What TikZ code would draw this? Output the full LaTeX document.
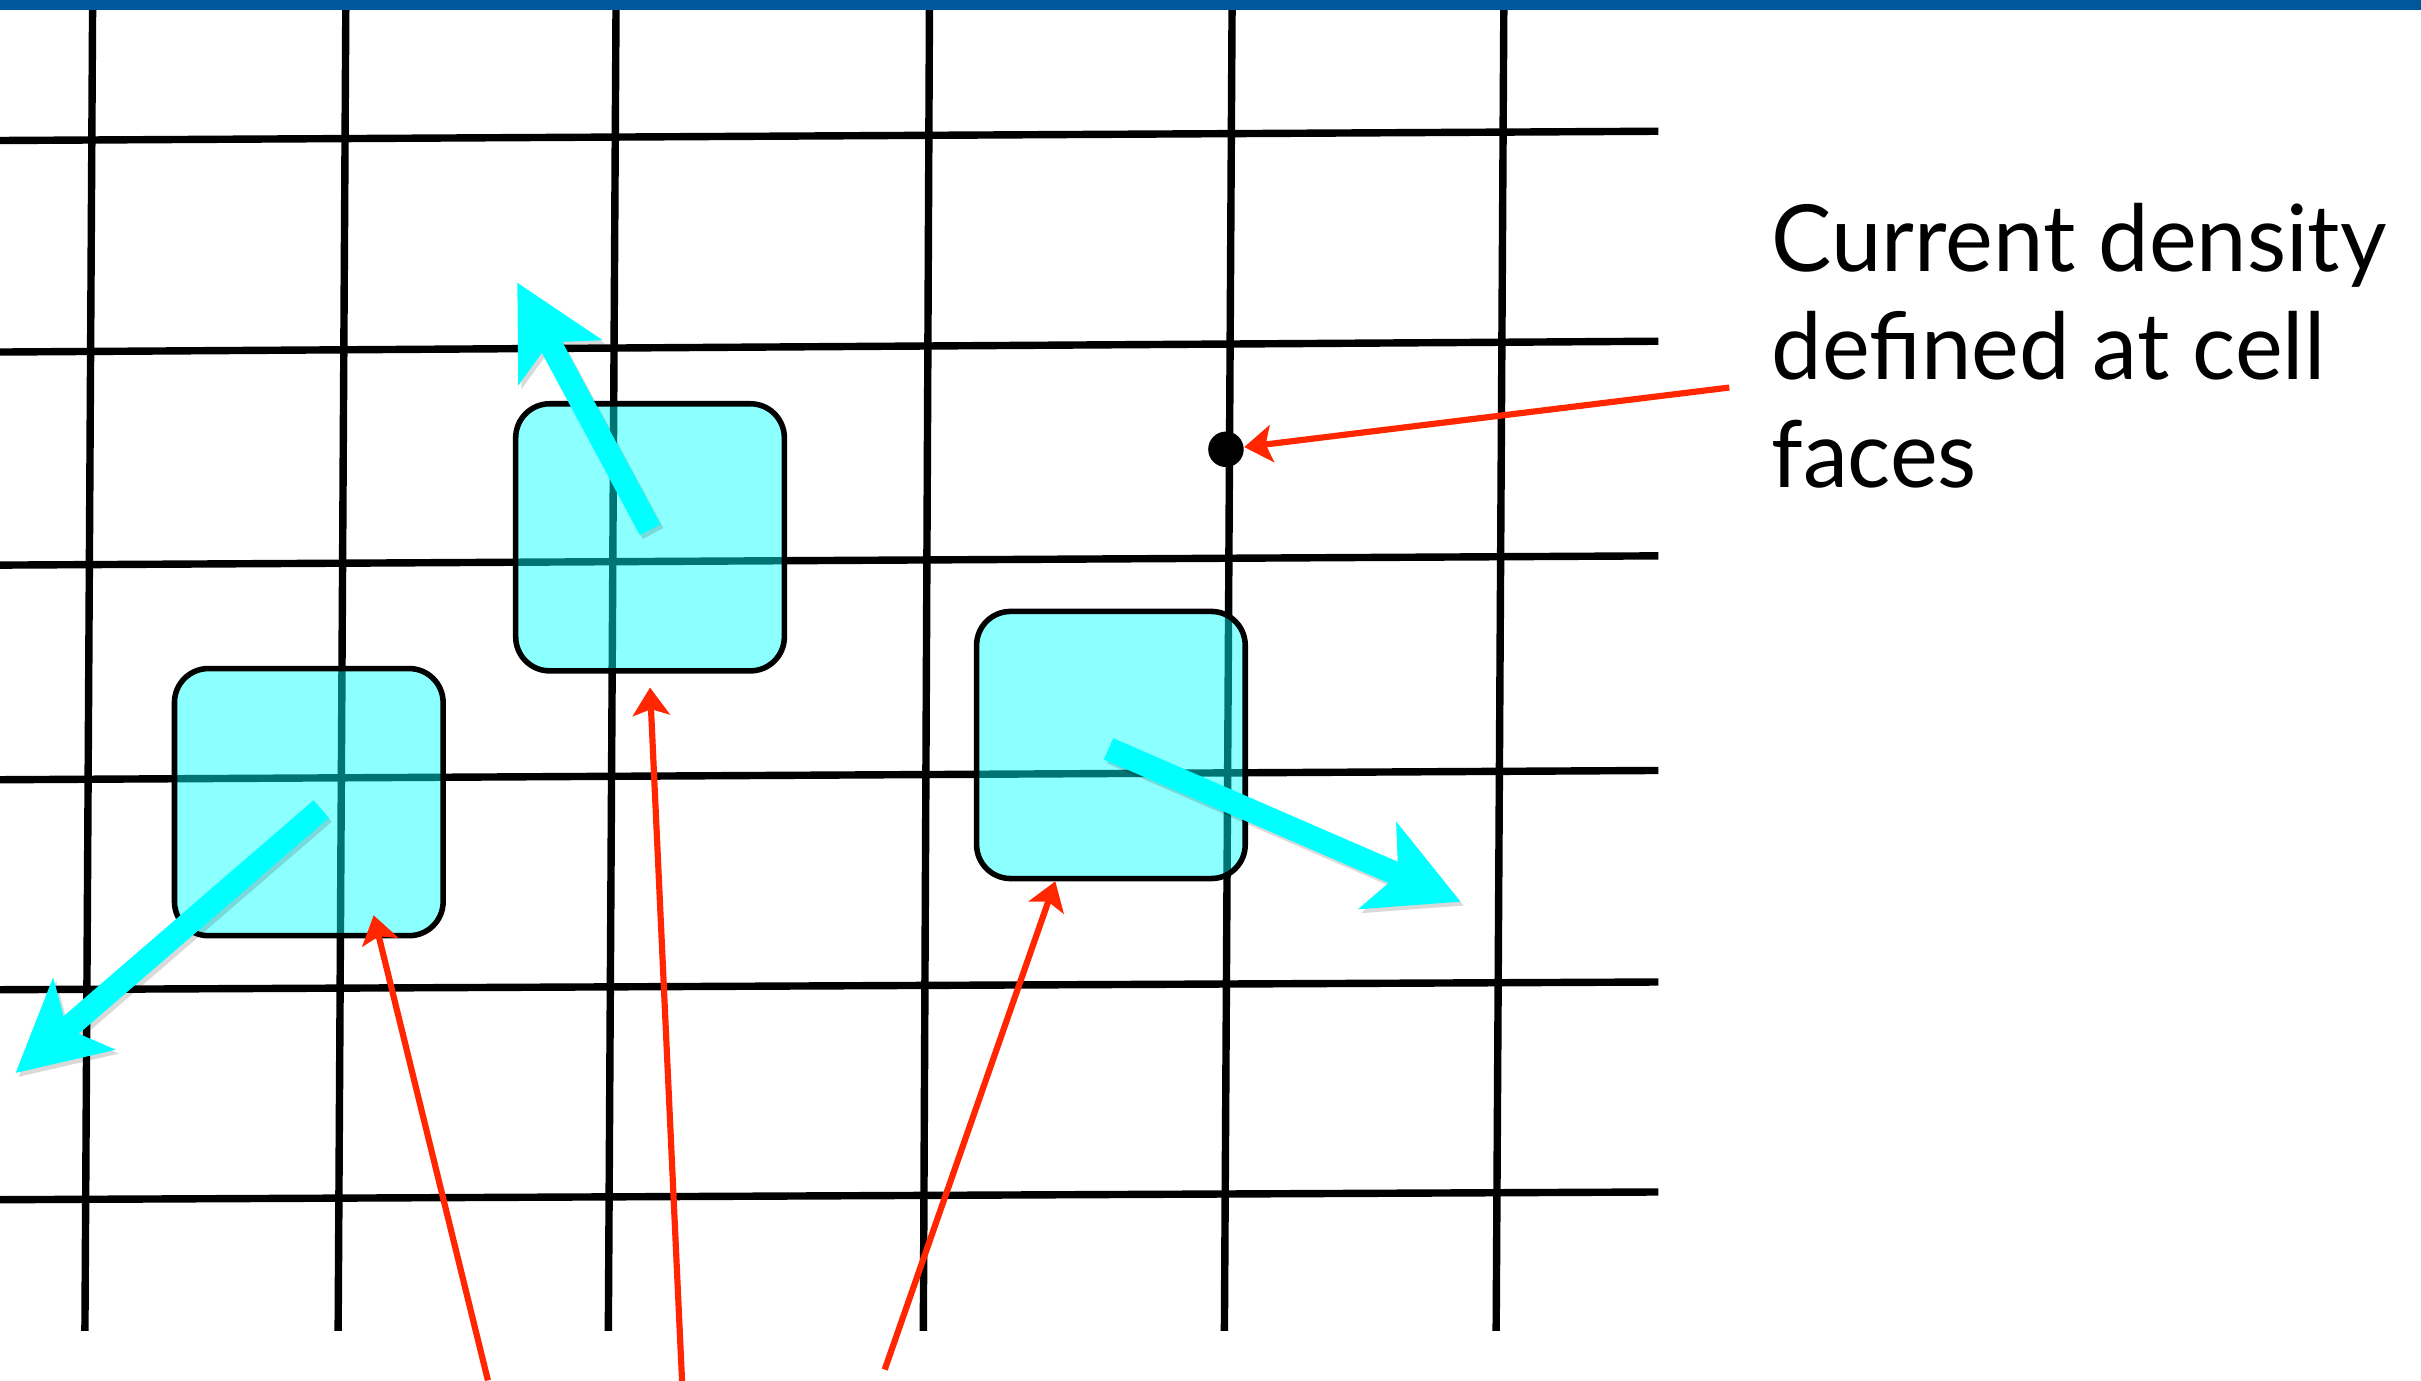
\documentclass[tikz,border=0pt]{standalone}
\usepackage{fontspec}
\setmainfont{Lato}[FakeStretch=0.975]
\usetikzlibrary{arrows.meta}
\definecolor{barblue}{RGB}{0,87,155}
\definecolor{pointer}{RGB}{255,38,0}
\definecolor{flux}{RGB}{0,255,255}
\begin{document}
\begin{tikzpicture}[x=0.5pt,y=-0.5pt,
  gridline/.style={line width=2.4pt, black},
  cellbox/.style={draw=black, line width=1.8pt, fill=flux, fill opacity=0.45,
    rounded corners=11pt, minimum width=87pt, minimum height=86.5pt, inner sep=0pt},
  fluxarrow/.style={line width=7.5pt, flux,
    -{Stealth[length=29pt, width=30pt, inset=7pt]}},
  fluxshadow/.style={line width=7.5pt, black, opacity=0.15,
    -{Stealth[length=29pt, width=30pt, inset=7pt]}},
  pointerarrow/.style={line width=2pt, pointer,
    -{Stealth[length=9pt, width=12pt, inset=2pt]}},
  facedot/.style={circle, fill=black, minimum size=11.5pt, inner sep=0pt},
  caption/.style={anchor=north west, align=left, inner sep=0pt,
    font=\fontsize{30pt}{35pt}\selectfont}]

\useasboundingbox (0,0) rectangle (1568,894);

% mesh lines (slightly skewed)
\foreach \xt/\xb in {60/55, 224/219, 399/394, 602/598, 798/793, 974/969}
  \draw[gridline] (\xt,0) -- (\xb,862);
\foreach \yl/\yr in {91/85, 228/221, 366/360, 505/499, 641/636, 777/772}
  \draw[gridline] (0,\yl) -- (1074,\yr);

% particles as cells
\node[cellbox] (boxA) at (200,519.5) {};
\node[cellbox] (boxB) at (421,348) {};
\node[cellbox] (boxC) at (719.5,482.5) {};

% particle velocities
\coordinate (tailA) at (208,524);  \coordinate (tipA) at (10,695);
\coordinate (tailB) at (421,343);  \coordinate (tipB) at (335,183);
\coordinate (tailC) at (718,485);  \coordinate (tipC) at (946,584);
\foreach \p in {A,B,C}{
  \draw[fluxshadow] ([shift={(2,2.5)}]tail\p) -- ([shift={(2,2.5)}]tip\p);
  \draw[fluxarrow] (tail\p) -- (tip\p);
}

% face-centred current density
\node[facedot] (face) at (794,291) {};
\node[caption] (label) at (1147,131)
  {Current density\\defined at cell\\faces};
\coordinate (labelfoot) at (1120,251);
\draw[pointerarrow] (labelfoot) -- (face);

% pointers to the particles
\coordinate (footA) at (316,894);
\coordinate (footB) at (442,900);
\coordinate (footC) at (573,887);
\draw[pointerarrow] (footA) -- ([xshift=21pt,yshift=7.5pt]boxA.south);
\draw[pointerarrow] (footB) -- ([yshift=-4.5pt]boxB.south);
\draw[pointerarrow] (footC) -- ([xshift=-18pt]boxC.south);

% title bar
\fill[barblue] (0,0) rectangle (1568,6.5);
\end{tikzpicture}
\end{document}
